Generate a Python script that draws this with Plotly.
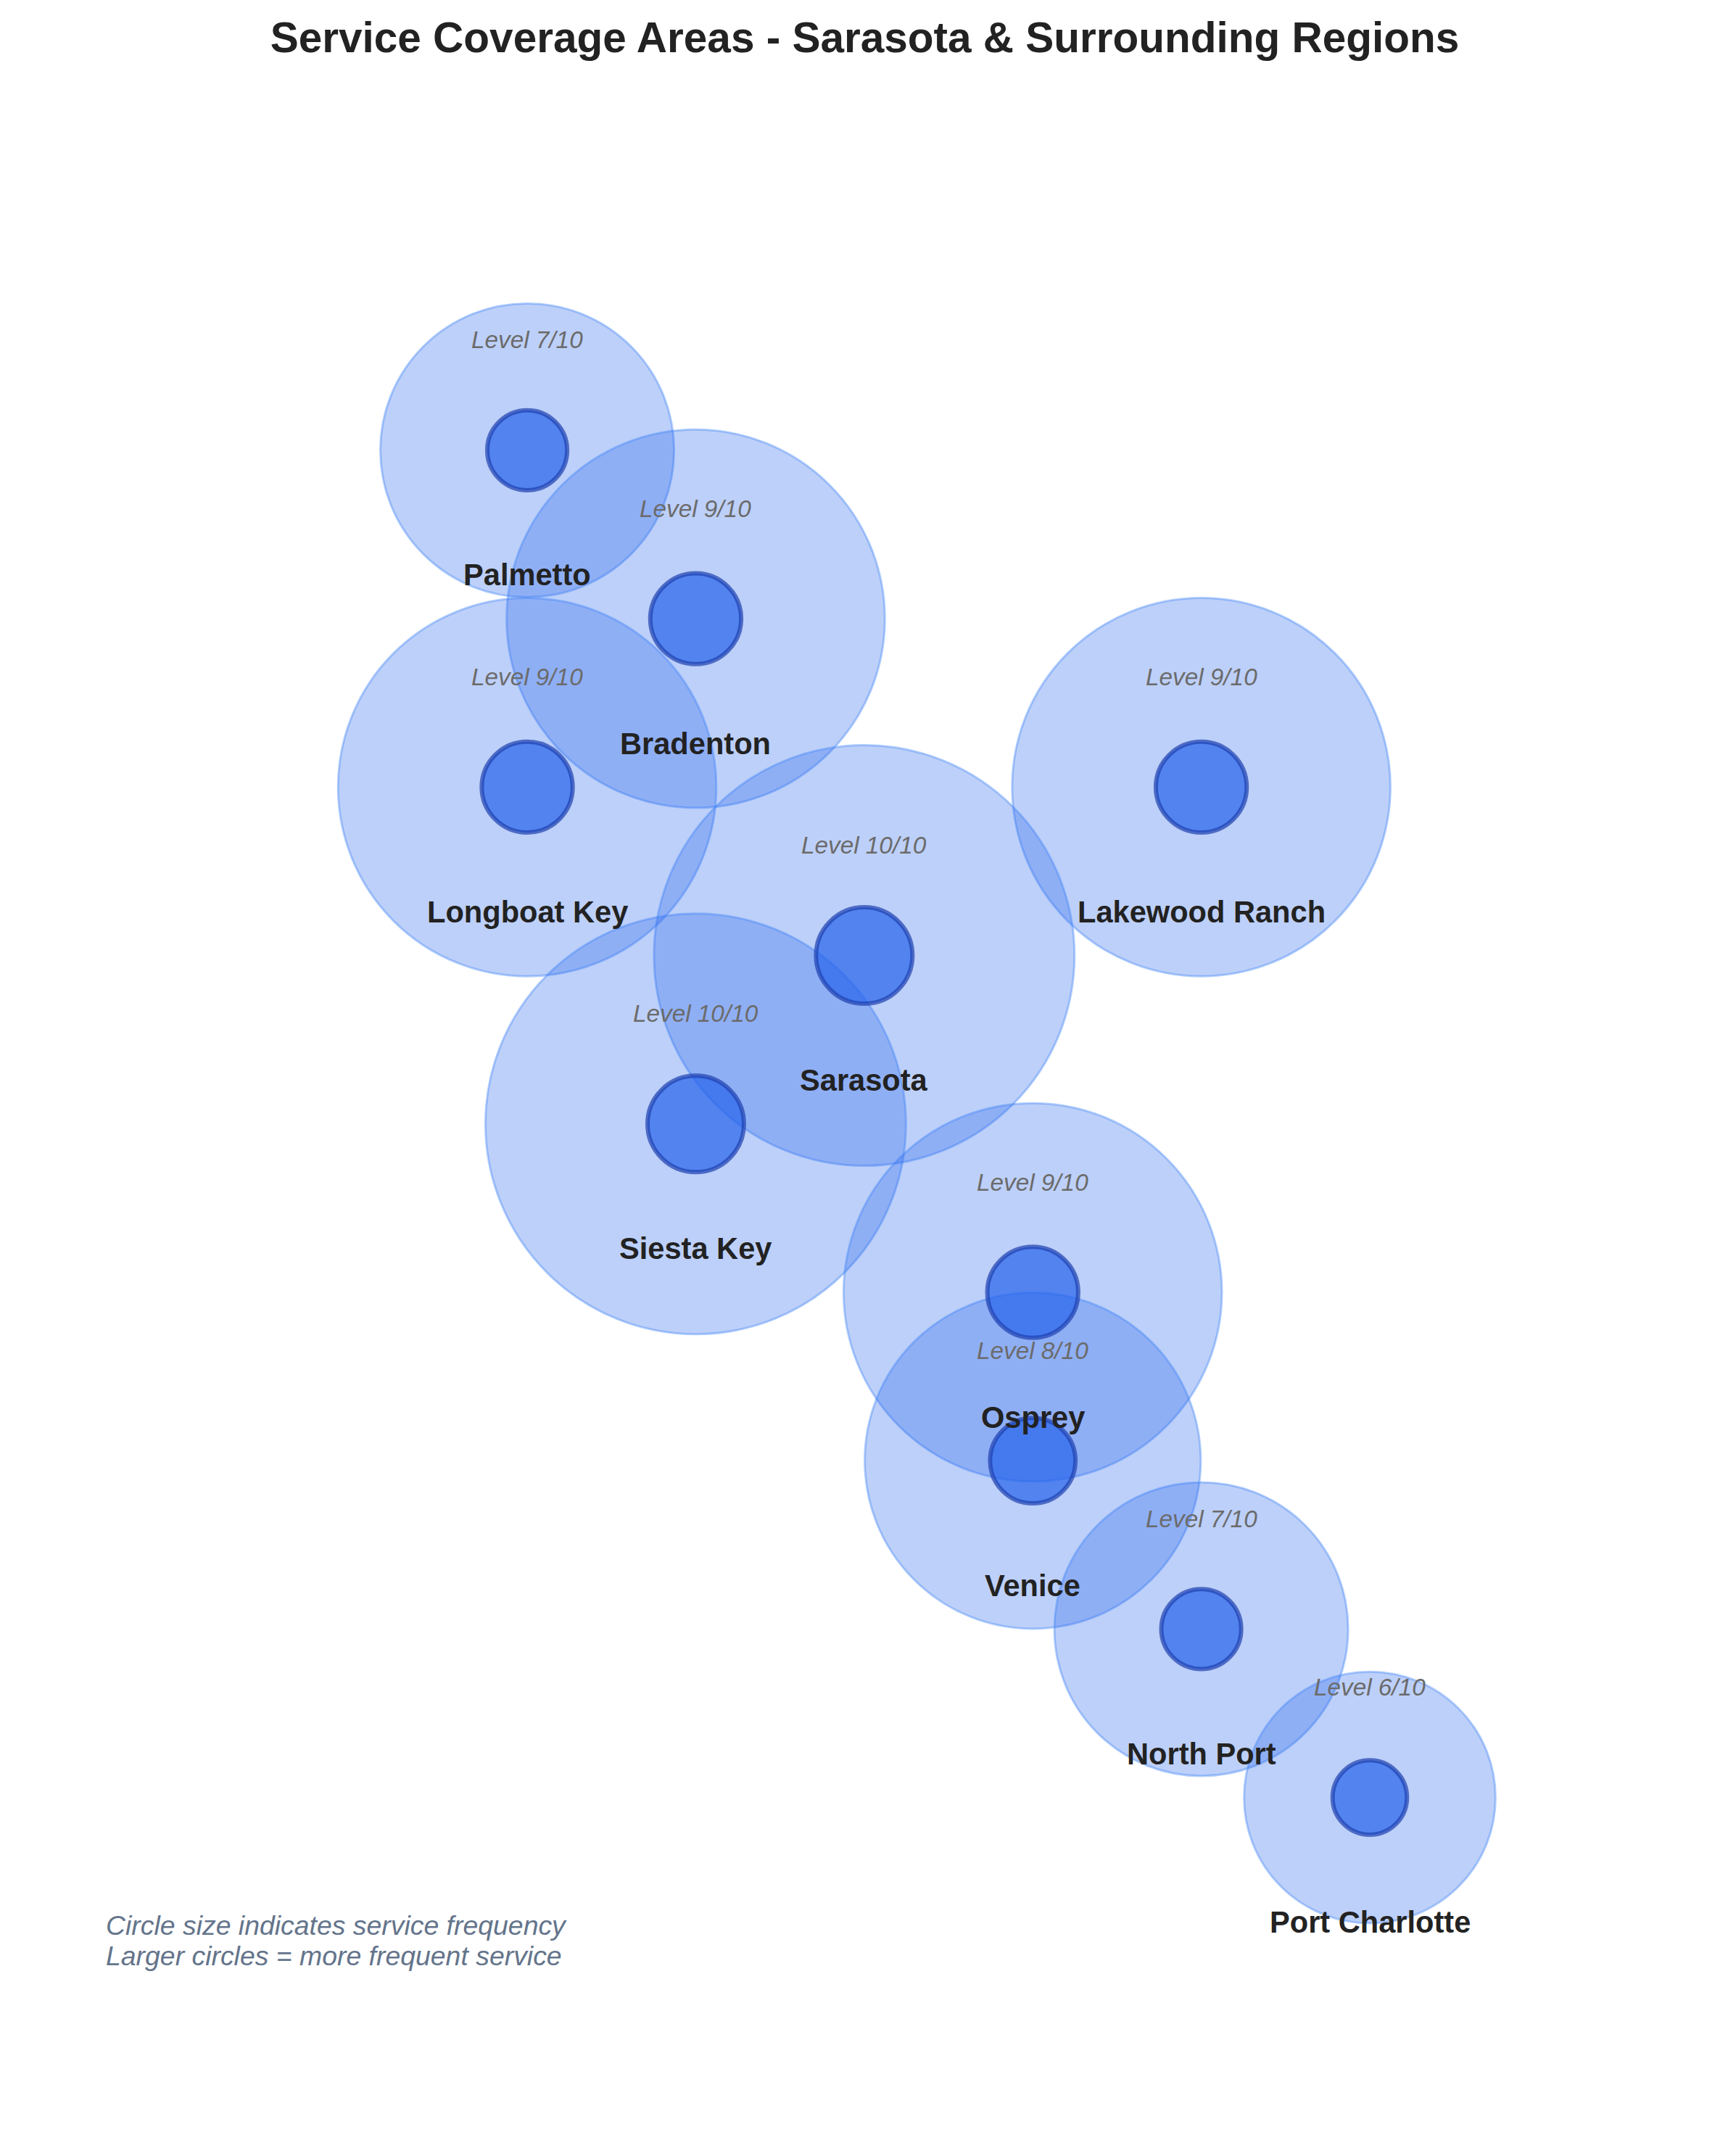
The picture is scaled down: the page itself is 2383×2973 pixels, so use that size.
import plotly.graph_objects as go

# ---- data ----
locations = ["Palmetto", "Bradenton", "Longboat Key", "Lakewood Ranch", "Sarasota",
             "Siesta Key", "Osprey", "Venice", "North Port", "Port Charlotte"]
grid_x = [1, 2, 1, 5, 3, 2, 4, 4, 5, 6]
grid_y = [10, 9, 8, 8, 7, 6, 5, 4, 3, 2]
service_level = [7, 9, 9, 9, 10, 10, 9, 8, 7, 6]
level_labels = [f"Level {v}/10" for v in service_level]
note_lines = ["Circle size indicates service frequency",
              "Larger circles = more frequent service"]

# ---- styling ----
FONT = "Liberation Sans, Arial, sans-serif"
W, H = 2383, 2973
coverage_sizes = [58.3 * v - 3 for v in service_level]
center_sizes = [63 + 7.6 * v - 6 for v in service_level]

fig = go.Figure()

fig.add_trace(go.Scatter(
    x=grid_x, y=grid_y, mode="markers",
    marker=dict(size=coverage_sizes, color="rgba(37,99,235,0.3)", opacity=1,
                line=dict(color="rgba(59,130,246,0.38)", width=3)),
    hoverinfo="skip", showlegend=False, cliponaxis=False,
))

fig.add_trace(go.Scatter(
    x=grid_x, y=grid_y, mode="markers",
    marker=dict(size=center_sizes, color="rgba(37,99,235,0.7)", opacity=1,
                line=dict(color="rgba(30,64,175,0.7)", width=6)),
    text=locations, hoverinfo="text", showlegend=False, cliponaxis=False,
))

for x, y, name, lvl in zip(grid_x, grid_y, locations, level_labels):
    fig.add_annotation(x=x, y=y, text=f"<b>{name}</b>", showarrow=False,
                       yshift=-172, yanchor="middle",
                       font=dict(family=FONT, size=41.6, color="#222222"))
    fig.add_annotation(x=x, y=y, text=f"<i>{lvl}</i>", showarrow=False,
                       yshift=152, yanchor="middle",
                       font=dict(family=FONT, size=33.3, color="#6b6b6b"))

ml, mr, mt, mb = 60, 60, 100, 60
pw = W - ml - mr
ph = H - mt - mb
for line, ypix in zip(note_lines, [2647, 2689]):
    fig.add_annotation(
        xref="paper", yref="paper", x=(136 - ml) / pw, y=(H - mb - ypix) / ph,
        xanchor="left", yanchor="middle", align="left", showarrow=False,
        text=f"<i>{line}</i>",
        font=dict(family=FONT, size=37.4, color="#64748b"),
    )

fig.update_layout(
    width=W, height=H,
    margin=dict(l=ml, r=mr, t=mt, b=mb),
    paper_bgcolor="white", plot_bgcolor="white",
    title=dict(text="<b>Service Coverage Areas - Sarasota & Surrounding Regions</b>",
               x=0.5 - 7 / W, xanchor="center", y=1 - 43.5 / H, yanchor="middle",
               font=dict(family=FONT, size=58.5, color="#222222")),
    xaxis=dict(range=[-1.836, 7.902], visible=False, showgrid=False, zeroline=False),
    yaxis=dict(range=[0.095, 12.209], visible=False, showgrid=False, zeroline=False),
    font=dict(family=FONT),
)

fig.write_html("out.html")
